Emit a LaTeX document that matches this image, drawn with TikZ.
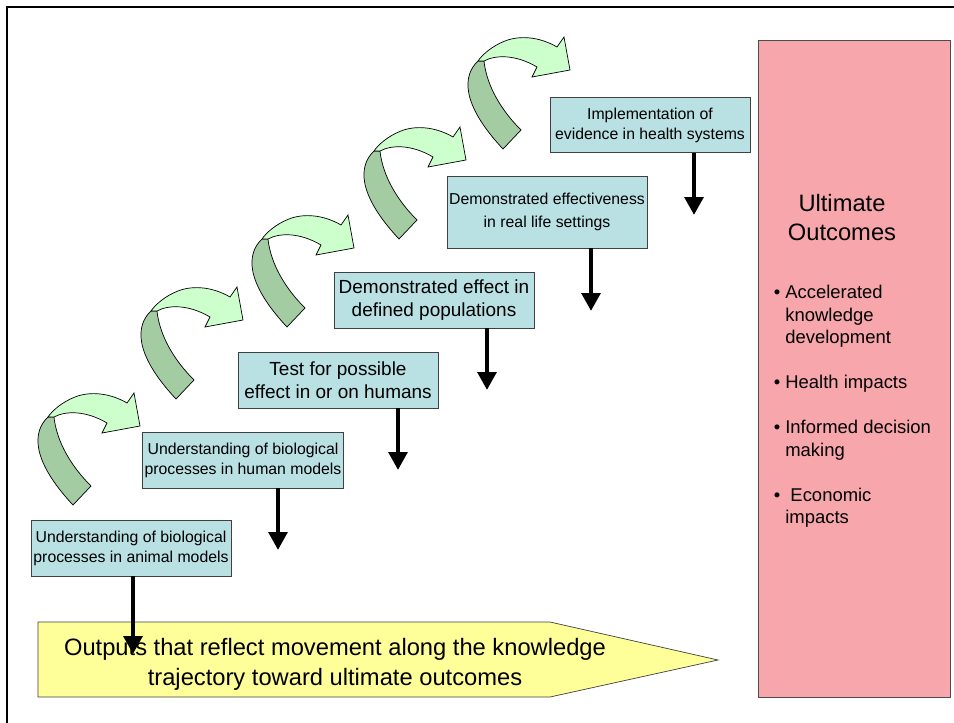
\documentclass[tikz,border=0pt]{standalone}
\usepackage{fontspec}
\setmainfont{Liberation Sans}
\usetikzlibrary{arrows.meta,positioning}
\definecolor{Stage}{HTML}{B9E0E3}
\definecolor{Rose}{HTML}{F7A6AC}
\definecolor{Butter}{HTML}{FFFF99}
\definecolor{Leaf}{HTML}{CCFFCC}
\definecolor{Moss}{HTML}{A3CCA3}
\tikzset{
 stage/.style={draw=black!75,fill=Stage,align=center,inner sep=1pt,
   font=\fontsize{9}{11.4}\selectfont,minimum width=4cm,minimum height=1.12cm},
 stagebig/.style={stage,font=\fontsize{10.8}{13.1}\selectfont},
 outcome/.style={draw=black!70,fill=Rose,minimum width=3.84cm,minimum height=13.14cm},
 flow/.style={draw=black!75,fill=Butter},
 arr/.style={line width=2.8pt,-{Triangle[length=3.6mm,width=3.7mm]}},
 curl/.pic={
   \draw[fill=Moss] (-92,-9) .. controls (-107,5) and (-110,33) .. (-67,79) -- (-49,60)
     .. controls (-74,35) and (-84,10) .. (-86,-9) -- cycle;
   \draw[fill=Leaf] (0,0) -- (-6,-33) -- (-13,-23) .. controls (-30,-33) and (-50,-35) .. (-65,-29)
     .. controls (-78,-24) and (-88,-15) .. (-92,-9) -- (-86,-9)
     .. controls (-75,-15) and (-55,-16) .. (-33,-3) -- (-38,7) -- cycle;
 }
}
\begin{document}
\begin{tikzpicture}[x=0.02cm,y=-0.02cm]
\useasboundingbox (0,0) rectangle (954,723);
\draw[line width=1.2pt] (7,723) -- (7,7) -- (954,7);
\pic at (140,426) {curl};
\pic at (243,320) {curl};
\pic at (354,248) {curl};
\pic at (466,160) {curl};
\pic at (570,70) {curl};
\node[stage] (a) at (131,548) {Understanding of biological\\processes in animal models};
\node[stage] (b) at (243,460) {Understanding of biological\\processes in human models};
\node[stagebig] (c) at (338,380) {Test for possible\\effect in or on humans};
\node[stagebig] (d) at (434,300) {Demonstrated effect in\\defined populations};
\node[stage,font=\fontsize{9}{13}\selectfont,minimum height=1.44cm] (e) at (547,212) {Demonstrated effectiveness\\in real life settings};
\node[stage,minimum height=1.1cm] (f) at (650,125) {Implementation of\\evidence in health systems};
\draw[flow] (38,622) -- (550,622) -- (718,660) -- (550,697) -- (38,697) -- cycle;
\node[font=\fontsize{13.5}{17}\selectfont,align=center] (out) at (335,664) {Outputs that reflect movement along the knowledge\\trajectory toward ultimate outcomes};
\node[outcome] (u) at (854,368.5) {};
\node[font=\fontsize{13.5}{16.5}\selectfont,align=center] (ut) at (842,218) {Ultimate\\Outcomes};
\node[anchor=north west,inner sep=0pt,align=left,font=\fontsize{10.5}{12.8}\selectfont] (ul) at (785,285)
  {\llap{\textbullet\ }Accelerated\\knowledge\\development\\[12.8pt]
   \llap{\textbullet\ }Health impacts\\[12.8pt]
   \llap{\textbullet\ }Informed decision\\making\\[12.8pt]
   \llap{\textbullet\ }\ Economic\\impacts};
\coordinate (ta) at (133,654);
\coordinate (tb) at (278,550);
\coordinate (tc) at (398,470);
\coordinate (td) at (487,390);
\coordinate (te) at (591,311);
\coordinate (tf) at (694,215);
\draw[arr] (a.south -| ta) -- (ta);
\draw[arr] (b.south -| tb) -- (tb);
\draw[arr] (c.south -| tc) -- (tc);
\draw[arr] (d.south -| td) -- (td);
\draw[arr] (e.south -| te) -- (te);
\draw[arr] (f.south -| tf) -- (tf);
\end{tikzpicture}
\end{document}
